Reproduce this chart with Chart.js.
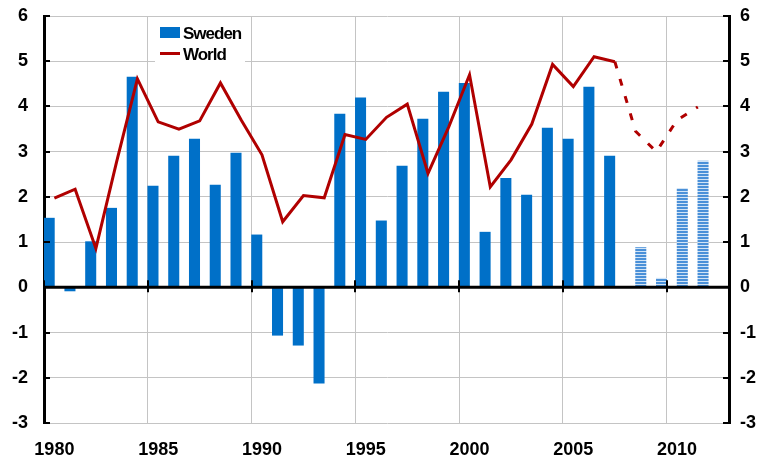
<!DOCTYPE html>
<html>
<head>
<meta charset="utf-8">
<script src="https://cdn.jsdelivr.net/npm/chart.js@4/dist/chart.umd.min.js"></script>
<style>
  html, body { margin: 0; padding: 0; background: #fff; }
  #wrap { width: 763px; height: 465px; }
</style>
</head>
<body>
<div id="wrap"><canvas id="chart" width="763" height="465"></canvas></div>
<script>
/* ── Datos ─────────────────────────────────────────────────── */
const YEARS = [
    '1980', '1981', '1982', '1983', '1984', '1985', '1986', '1987', '1988', '1989',
    '1990', '1991', '1992', '1993', '1994', '1995', '1996', '1997', '1998', '1999',
    '2000', '2001', '2002', '2003', '2004', '2005', '2006', '2007', '2008', '2009',
    '2010', '2011', '2012'
];

const SWEDEN = [
    1.53, -0.08, 1.01, 1.75, 4.65, 2.24, 2.90, 3.28, 2.26, 2.97,
    1.16, -1.06, -1.28, -2.12, 3.83, 4.19, 1.47, 2.68, 3.72, 4.32,
    4.51, 1.22, 2.41, 2.04, 3.52, 3.28, 4.43, 2.90, null, null,
    null, null, null
];

const SWEDEN_FORECAST = [
    null, null, null, null, null, null, null, null, null, null,
    null, null, null, null, null, null, null, null, null, null,
    null, null, null, null, null, null, null, null, 0.88, 0.20,
    2.19, 2.79, null
];

const WORLD = [
    1.97, 2.17, 0.86, 2.78, 4.61, 3.66, 3.50, 3.68, 4.52, 3.70,
    2.93, 1.45, 2.03, 1.98, 3.38, 3.27, 3.76, 4.05, 2.52, 3.55,
    4.70, 2.22, 2.82, 3.61, 4.93, 4.44, 5.10, 4.99, 3.45, 3.00,
    3.70, 3.99, null
];

const Y_TICKS = [-3, -2, -1, 0, 1, 2, 3, 4, 5, 6];
const FORECAST_FROM = 27;   // el tramo punteado empieza en 2007

const BLUE = '#0070C8';
const RED  = '#B00000';
const GRID = '#c4c4c4';
const FONT = "'Liberation Sans', Arial, sans-serif";

/* ── Rayado horizontal para las barras de pronóstico ───────── */
function stripes() {
    const c = document.createElement('canvas');
    c.width = 4; c.height = 3;
    const g = c.getContext('2d');
    g.fillStyle = '#d2e4f6';
    g.fillRect(0, 0, 4, 3);
    g.fillStyle = '#4a90d8';
    g.fillRect(0, 0, 4, 2);
    return g.createPattern(c, 'repeat');
}

/* ── Eje en cero, marcas interiores y leyenda ──────────────── */
const decor = {
    id: 'decor',
    afterDatasetsDraw(chart) {
        const { ctx, chartArea: a, scales } = chart;
        const x = scales.x, y = scales.y;
        const zero = y.getPixelForValue(0);
        const half = (x.getPixelForValue(1) - x.getPixelForValue(0)) / 2;
        ctx.save();
        ctx.strokeStyle = '#000';
        ctx.lineWidth = 3;
        ctx.beginPath();
        ctx.moveTo(a.left, zero);
        ctx.lineTo(a.right, zero);
        ctx.stroke();

        ctx.lineWidth = 2;
        ctx.beginPath();
        YEARS.forEach((yr, i) => {
            if (Number(yr) % 5 !== 0) return;
            const px = Math.round(x.getPixelForValue(i) - half);
            ctx.moveTo(px, zero - 7);
            ctx.lineTo(px, zero + 5);
        });
        Y_TICKS.forEach(v => {
            const py = Math.round(y.getPixelForValue(v));
            ctx.moveTo(a.left, py);
            ctx.lineTo(a.left + 6, py);
            ctx.moveTo(a.right - 6, py);
            ctx.lineTo(a.right, py);
        });
        ctx.stroke();
        ctx.restore();
    },
    afterDraw(chart) {
        const ctx = chart.ctx;
        ctx.save();
        ctx.fillStyle = '#fff';
        ctx.fillRect(155, 19, 90, 46);
        ctx.fillStyle = BLUE;
        ctx.fillRect(160, 27, 20, 11);
        ctx.strokeStyle = RED;
        ctx.lineWidth = 3;
        ctx.beginPath();
        ctx.moveTo(160, 53.5);
        ctx.lineTo(180, 53.5);
        ctx.stroke();
        ctx.fillStyle = '#000';
        ctx.font = 'bold 17px ' + FONT;
        ctx.letterSpacing = '-1px';
        ctx.textBaseline = 'alphabetic';
        ctx.fillText('Sweden', 183, 38.5);
        ctx.fillText('World', 183, 60);
        ctx.restore();
    }
};

const tickFont = { family: FONT, size: 18, weight: 'bold' };

// anchos fijos de los ejes y sin relleno extra por las etiquetas
function fixY(width) {
    return (s) => {
        s.width = width;
        s.paddingTop = 0;
        s.paddingBottom = 0;
    };
}

new Chart(document.getElementById('chart'), {
    type: 'bar',
    data: {
        labels: YEARS,
        datasets: [
            {
                type: 'line',
                label: 'World',
                data: WORLD,
                borderColor: RED,
                borderWidth: 3,
                borderJoinStyle: 'miter',
                pointRadius: 0,
                tension: 0,
                yAxisID: 'y',
                order: 0,
                segment: {
                    borderDash: (c) => c.p0DataIndex >= FORECAST_FROM ? [7, 11] : undefined
                }
            },
            {
                label: 'Sweden',
                data: SWEDEN,
                backgroundColor: BLUE,
                borderWidth: 0,
                barPercentage: 1,
                categoryPercentage: 1,
                yAxisID: 'y',
                order: 1
            },
            {
                label: 'Sweden (forecast)',
                data: SWEDEN_FORECAST,
                backgroundColor: stripes(),
                borderWidth: 0,
                barPercentage: 1,
                categoryPercentage: 1,
                yAxisID: 'y',
                order: 1
            }
        ]
    },
    options: {
        responsive: false,
        animation: false,
        layout: { padding: { top: 16, left: 0, right: 0, bottom: 0 } },
        plugins: {
            legend: { display: false },
            tooltip: { enabled: false }
        },
        scales: {
            x: {
                type: 'category',
                offset: true,
                grid: {
                    offset: true,
                    drawTicks: false,
                    lineWidth: 1,
                    color: (c) => (c.index !== undefined && c.index % 5 === 0) ? GRID : 'rgba(0,0,0,0)'
                },
                border: { display: false },
                ticks: {
                    autoSkip: false,
                    maxRotation: 0,
                    padding: 16,
                    color: '#000',
                    font: tickFont,
                    callback: (v, i) => Number(YEARS[i]) % 5 === 0 ? YEARS[i] : ''
                },
                afterFit: (s) => { s.height = 42; }
            },
            y: {
                position: 'left',
                min: -3,
                max: 6,
                grid: { color: GRID, lineWidth: 1, drawTicks: false },
                border: { color: '#000', width: 3 },
                ticks: { stepSize: 1, padding: 16, color: '#000', font: tickFont },
                afterFit: fixY(44)
            },
            y2: {
                position: 'right',
                min: -3,
                max: 6,
                grid: { drawOnChartArea: false, drawTicks: false },
                border: { color: '#000', width: 3 },
                ticks: { stepSize: 1, padding: 11, color: '#000', font: tickFont },
                afterFit: fixY(34)
            }
        }
    },
    plugins: [decor]
});
</script>
</body>
</html>
